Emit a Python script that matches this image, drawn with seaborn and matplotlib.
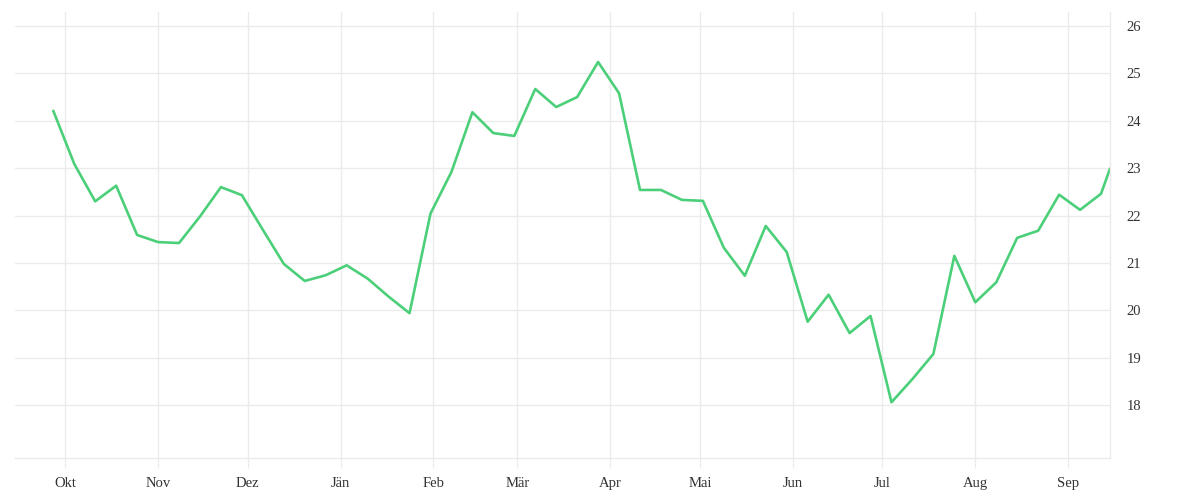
import matplotlib
matplotlib.use("Agg")
import matplotlib.pyplot as plt
import seaborn as sns
import pandas as pd

# weekly values (Sep 2020 - Sep 2021)
week_start = "2020-09-27"
last_date = "2021-09-15"
values = [
    24.21, 23.09, 22.30, 22.63, 21.59, 21.44, 21.42, 21.98, 22.60, 22.43,
    21.70, 20.98, 20.62, 20.74, 20.95, 20.67, 20.29, 19.94, 22.04, 22.92,
    24.18, 23.74, 23.68, 24.67, 24.29, 24.50, 25.24, 24.58, 22.54, 22.54,
    22.33, 22.31, 21.32, 20.73, 21.78, 21.23, 19.76, 20.33, 19.52, 19.88,
    18.06, 18.55, 19.08, 21.15, 20.17, 20.59, 21.53, 21.68, 22.44, 22.12,
    22.46, 22.99,
]
month_labels = ["Okt", "Nov", "Dez", "Jän", "Feb", "Mär", "Apr", "Mai",
                "Jun", "Jul", "Aug", "Sep"]
y_ticks = [18, 19, 20, 21, 22, 23, 24, 25, 26]

dates = list(pd.date_range(week_start, periods=len(values) - 1, freq="7D"))
dates.append(pd.Timestamp(last_date))
df = pd.DataFrame({"date": dates, "value": values})

sns.set_theme(style="white")
plt.rcParams["font.family"] = ["Liberation Serif", "DejaVu Serif"]

grid_col = "#ebebeb"
fig, ax = plt.subplots(figsize=(12, 5), dpi=100)
fig.subplots_adjust(left=15 / 1200, right=1110 / 1200, top=1 - 12 / 500, bottom=1 - 458 / 500)

sns.lineplot(data=df, x="date", y="value", ax=ax, color="#4bcf79", linewidth=1.9)

ax.set_xlim(pd.Timestamp("2020-09-14 05:00"), pd.Timestamp(last_date))
ax.set_ylim(16.884, 26.295)

month_ticks = pd.date_range("2020-10-01", periods=len(month_labels), freq="MS")
ax.set_xticks(month_ticks)
ax.set_xticklabels(month_labels)
ax.set_yticks(y_ticks)

ax.yaxis.tick_right()
ax.grid(True, color=grid_col, linewidth=1)
ax.tick_params(axis="x", direction="out", length=7.2, width=0.8, color=grid_col,
               labelsize=10.5, labelcolor="#333333", pad=6.5, bottom=True)
ax.tick_params(axis="y", length=0, labelsize=10.5, labelcolor="#333333", pad=12)
ax.set_xlabel("")
ax.set_ylabel("")

for side in ["top", "left"]:
    ax.spines[side].set_visible(False)
for side in ["bottom", "right"]:
    ax.spines[side].set_color(grid_col)
    ax.spines[side].set_linewidth(1)

plt.savefig("out.png", dpi=100)
plt.close(fig)
